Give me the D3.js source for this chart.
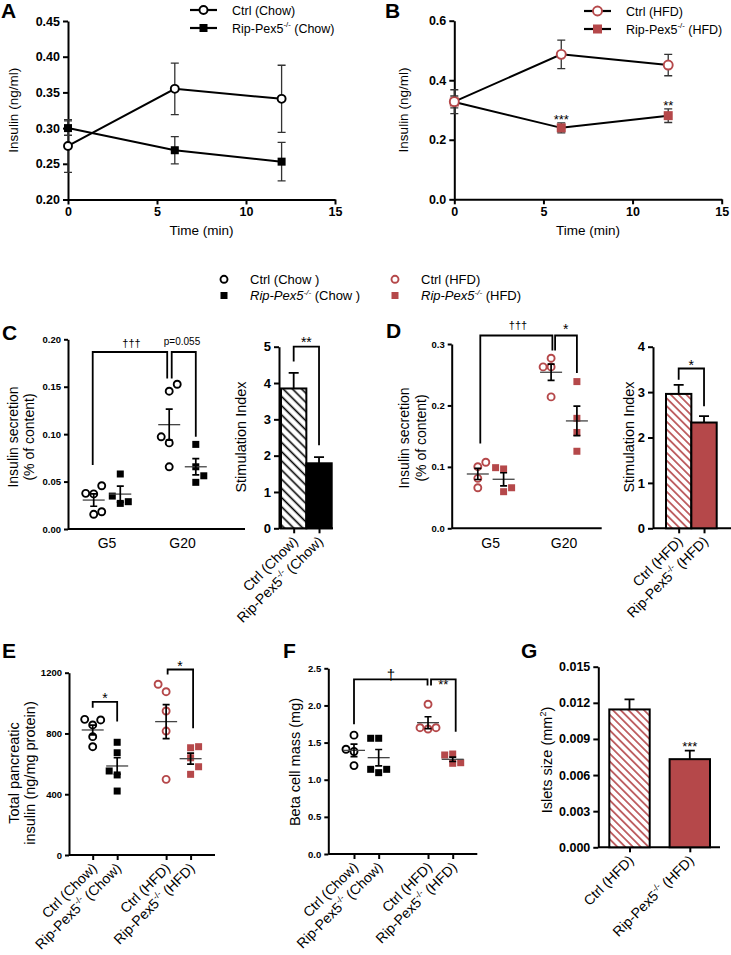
<!DOCTYPE html>
<html>
<head>
<meta charset="utf-8">
<script src="https://cdn.jsdelivr.net/npm/d3@7"></script>
<style>
body { margin: 0; background: #fff; }
svg { display: block; font-family: "Liberation Sans", Arial, sans-serif; }
</style>
</head>
<body>
<script>
// ---------- data ----------
var timeMin = [0, 6, 12];
var chowCtrlMean = [0.275, 0.355, 0.341];
var chowCtrlSem = [0.037, 0.036, 0.047];
var chowKoMean = [0.300, 0.269, 0.253];
var chowKoSem = [0.010, 0.019, 0.027];
var hfdCtrlMean = [0.328, 0.487, 0.451];
var hfdCtrlSem = [0.040, 0.048, 0.036];
var hfdKoMean = [0.327, 0.240, 0.281];
var hfdKoSem = [0.020, 0.017, 0.023];
var hfdKoStars = ["", "***", "**"];

var glucoseGroups = ["G5", "G20"];
// C: secretion (% of content), chow; [G5, G20]
var secChowCtrl = [[0.0376, 0.0370, 0.0456, 0.0155, 0.0182], [0.1453, 0.1526, 0.0972, 0.0908, 0.0656]];
var secChowCtrlSlot = [[-1, 0, 1, 0, 1], [0, 1, -1, 0, 0]];
var secChowCtrlMean = [0.0305, 0.1100];
var secChowCtrlSem = [0.0065, 0.0163];
var secChowKo = [[0.0580, 0.0347, 0.0270, 0.0288], [0.0892, 0.0656, 0.0561, 0.0492]];
var secChowKoSlot = [[0, -1, 0, 1], [0, 0, 1, 0]];
var secChowKoMean = [0.0368, 0.0656];
var secChowKoSem = [0.0084, 0.0086];
// D: secretion, HFD
var secHfdCtrl = [[0.1003, 0.1075, 0.0814, 0.0660], [0.2769, 0.2627, 0.2627, 0.2139]];
var secHfdCtrlSlot = [[0, 1, 0, 0], [0, -1, 0, 0]];
var secHfdCtrlMean = [0.0884, 0.2540];
var secHfdCtrlSem = [0.0090, 0.0133];
var secHfdKo = [[0.0987, 0.0966, 0.0660, 0.0596], [0.2388, 0.1790, 0.1560, 0.1254]];
var secHfdKoSlot = [[-1, 0, 1, 0], [0, 0, 0, 0]];
var secHfdKoMean = [0.0798, 0.1748];
var secHfdKoSem = [0.0106, 0.0240];

// stimulation index
var chowLabels = ["Ctrl (Chow)", "Rip-Pex5^-/-^  (Chow)"];
var hfdLabels = ["Ctrl (HFD)", "Rip-Pex5^-/-^  (HFD)"];
var stimChowMean = [3.85, 1.79];
var stimChowSem = [0.43, 0.17];
var stimHfdMean = [2.96, 2.33];
var stimHfdSem = [0.20, 0.14];

// E: total pancreatic insulin, F: beta cell mass
var fourLabels = ["Ctrl (Chow)", "Rip-Pex5^-/-^  (Chow)", "Ctrl (HFD)", "Rip-Pex5^-/-^  (HFD)"];
var fourPos = [0, 1, 3, 4];
var totInsValues = [[893, 856, 889, 779, 713], [742, 673, 553, 527, 421], [1124, 1075, 948, 816, 498], [706, 713, 640, 581, 531]];
var totInsSlot = [[-1, 0, 1, 0, 0], [0, 0, -1, 0, 0], [-1, 0, 0, 0, 0], [0, 1, 0, 1, 0]];
var totInsMean = [823, 586, 878, 634];
var totInsSem = [32, 54, 112, 36];
var betaValues = [[1.60, 1.41, 1.38, 1.19], [1.558, 1.558, 1.14, 1.095, 1.14], [2.016, 1.70, 1.683, 1.70], [1.333, 1.346, 1.229, 1.221]];
var betaSlot = [[0, -1, 0, 0], [-1, 0, -1, 0, 1], [0, -1, 0, 1], [-1, 0, 1, 0]];
var betaMean = [1.395, 1.297, 1.768, 1.275];
var betaSem = [0.085, 0.11, 0.08, 0.03];

// G: islet size
var isletMean = [0.01145, 0.00732];
var isletSem = [0.00083, 0.00071];

// ---------- drawing ----------
var red = "#b5484a";
var svg = d3.select("body").append("svg").attr("width", 731).attr("height", 955);
var defs = svg.append("defs");

function hatch(id, color, gap) {
    var p = defs.append("pattern").attr("id", id)
        .attr("patternUnits", "userSpaceOnUse")
        .attr("width", gap).attr("height", gap)
        .attr("patternTransform", "rotate(-45)");
    p.append("rect").attr("width", gap).attr("height", gap).attr("fill", "#fff");
    p.append("line").attr("x1", gap / 2).attr("x2", gap / 2).attr("y1", 0).attr("y2", gap)
        .attr("stroke", color).attr("stroke-width", 1.6);
}
hatch("hatchBlack", "#000", 6.5);
hatch("hatchRed", red, 5.5);

function styleAxis(g, size, bold) {
    g.attr("font-family", null).attr("font-size", null);
    g.select(".domain").attr("stroke", "#000").attr("stroke-width", 2);
    g.selectAll(".tick line").attr("stroke", "#000").attr("stroke-width", 2);
    g.selectAll(".tick text").attr("fill", "#000")
        .attr("font-size", size).attr("font-weight", bold ? "bold" : "normal");
}

// "a^b^c" -> b is superscript
function richText(t, str, size, italicFirst) {
    var parts = str.split("^");
    var up = 0;
    parts.forEach(function (s, i) {
        if (!s) return;
        var ts = t.append("tspan").text(s);
        if (i % 2 == 1) {
            ts.attr("font-size", size * 0.62).attr("dy", -size * 0.42);
            up = size * 0.42;
        } else {
            ts.attr("font-size", size).attr("dy", up);
            up = 0;
            if (italicFirst && i == 0) ts.attr("font-style", "italic");
        }
        if (italicFirst && i == 1) ts.attr("font-style", "italic");
    });
    return t;
}

function letter(s, x, y) {
    svg.append("text").attr("x", x).attr("y", y)
        .attr("font-size", 21).attr("font-weight", "bold").text(s);
}

function vTitle(str, cx, cy, size) {
    var t = svg.append("text")
        .attr("transform", "translate(" + cx + "," + cy + ") rotate(-90)")
        .attr("text-anchor", "middle");
    richText(t, str, size);
}

function rotLabels(x, labels, pos, axisY, size) {
    labels.forEach(function (l, i) {
        var t = svg.append("text")
            .attr("transform", "translate(" + (x(pos[i]) + 5) + "," + (axisY + 14) + ") rotate(-45)")
            .attr("text-anchor", "end");
        richText(t, l, size);
    });
}

function bracket(x1, yb1, x2, yb2, ytop) {
    svg.append("path")
        .attr("d", "M" + x1 + "," + yb1 + "V" + ytop + "H" + x2 + "V" + yb2)
        .attr("fill", "none").attr("stroke", "#000").attr("stroke-width", 1.8);
}

function note(str, x, y, size, bold) {
    svg.append("text").attr("x", x).attr("y", y).attr("text-anchor", "middle")
        .attr("fill", "#000")
        .attr("font-size", size).attr("font-weight", bold ? "bold" : "normal").text(str);
}

function marker(g, shape, cx, cy, color, size) {
    if (shape == "circle") {
        g.append("circle").attr("cx", cx).attr("cy", cy).attr("r", size / 2)
            .attr("fill", "#fff").attr("stroke", color).attr("stroke-width", 1.9);
    } else {
        g.append("rect").attr("x", cx - size / 2).attr("y", cy - size / 2)
            .attr("width", size).attr("height", size).attr("fill", color);
    }
}

// ---- A / B time course ----
function timeCourse(o) {
    var x = d3.scaleLinear().domain([0, 15]).range(o.xr);
    var y = d3.scaleLinear().domain(o.yd).range(o.yr);
    var gx = svg.append("g").attr("transform", "translate(0," + o.yr[0] + ")")
        .call(d3.axisBottom(x).tickValues([0, 5, 10, 15]).tickSize(5).tickSizeOuter(0));
    styleAxis(gx, 12.5, true);
    var gy = svg.append("g").attr("transform", "translate(" + o.xr[0] + ",0)")
        .call(d3.axisLeft(y).tickValues(o.ticks).tickFormat(d3.format(o.fmt)).tickSize(5).tickSizeOuter(0));
    styleAxis(gy, 12.5, true);

    var pts = o.series.map(function (s) {
        return timeMin.map(function (t, i) { return { t: t, m: s.mean[i], e: s.sem[i] }; });
    });
    pts.forEach(function (p) {
        svg.append("path").datum(p).attr("fill", "none").attr("stroke", "#000").attr("stroke-width", 2)
            .attr("d", d3.line().x(function (d) { return x(d.t); }).y(function (d) { return y(d.m); }));
    });
    pts.forEach(function (p) {
        p.forEach(function (d) {
            var cx = x(d.t), y1 = y(d.m - d.e), y2 = y(d.m + d.e);
            svg.append("path").attr("d", "M" + cx + "," + y1 + "V" + y2 + "M" + (cx - 4) + "," + y1 + "h8M" + (cx - 4) + "," + y2 + "h8")
                .attr("stroke", "#333").attr("stroke-width", 1.3).attr("fill", "none");
        });
    });
    o.series.slice().reverse().forEach(function (s, k) {
        var p = pts[o.series.length - 1 - k];
        p.forEach(function (d) { marker(svg, s.shape, x(d.t), y(d.m), s.color, s.size); });
    });
    if (o.stars) {
        o.stars.forEach(function (st, i) {
            if (st) note(st, x(timeMin[i]), y(o.series[1].mean[i] + o.series[1].sem[i]) + 1, 13, false);
        });
    }
    // legend
    o.series.forEach(function (s, i) {
        var ly = o.legY + i * 18;
        svg.append("line").attr("x1", o.legX).attr("x2", o.legX + 27).attr("y1", ly).attr("y2", ly)
            .attr("stroke", "#000").attr("stroke-width", 2.2);
        marker(svg, s.shape, o.legX + 13.5, ly, s.color, s.size);
        var t = svg.append("text").attr("x", o.legX + 42).attr("y", ly + 4.5);
        richText(t, s.name, 12.5);
    });
    note("Time (min)", (o.xr[0] + o.xr[1]) / 2, 235, 13.5, false);
    vTitle("Insulin (ng/ml)", o.titleX, (o.yr[0] + o.yr[1]) / 2, 13.5);
}

timeCourse({
    xr: [68, 335], yr: [199.5, 21], yd: [0.2, 0.45],
    ticks: [0.20, 0.25, 0.30, 0.35, 0.40, 0.45], fmt: ".2f",
    legX: 190, legY: 10, titleX: 18,
    series: [
        { name: "Ctrl  (Chow)", mean: chowCtrlMean, sem: chowCtrlSem, shape: "circle", color: "#000", size: 8 },
        { name: "Rip-Pex5^-/-^ (Chow)", mean: chowKoMean, sem: chowKoSem, shape: "square", color: "#000", size: 8 }
    ]
});
timeCourse({
    xr: [454.3, 721.7], yr: [199.3, 20.7], yd: [0, 0.6],
    ticks: [0, 0.2, 0.4, 0.6], fmt: ".1f",
    legX: 584, legY: 11, titleX: 408, stars: hfdKoStars,
    series: [
        { name: "Ctrl  (HFD)", mean: hfdCtrlMean, sem: hfdCtrlSem, shape: "circle", color: red, size: 9 },
        { name: "Rip-Pex5^-/-^ (HFD)", mean: hfdKoMean, sem: hfdKoSem, shape: "square", color: red, size: 9 }
    ]
});
letter("A", 1, 18);
letter("B", 385, 18);

// ---- shared legend ----
[
    { shape: "circle", color: "#000", x: 224, y: 279.3, text: "Ctrl (Chow )" },
    { shape: "square", color: "#000", x: 224, y: 295.5, text: "Rip-Pex5^-/-^ (Chow )" },
    { shape: "circle", color: red, x: 395, y: 279.3, text: "Ctrl (HFD)" },
    { shape: "square", color: red, x: 395, y: 295.5, text: "Rip-Pex5^-/-^ (HFD)" }
].forEach(function (l) {
    marker(svg, l.shape, l.x, l.y, l.color, 7);
    var t = svg.append("text").attr("x", l.x + 26).attr("y", l.y + 4.5);
    richText(t, l.text, 13, l.shape == "square");
});

// ---- scatter with mean +/- SEM ----
function scatter(o) {
    var gy = svg.append("g").attr("transform", "translate(" + o.ax + ",0)")
        .call(d3.axisLeft(o.y).tickValues(o.ticks).tickFormat(d3.format(o.fmt)).tickSize(4).tickSizeOuter(0));
    styleAxis(gy, 9.5, true);
    svg.append("line").attr("x1", o.ax).attr("x2", o.axEnd).attr("y1", o.y.range()[0]).attr("y2", o.y.range()[0])
        .attr("stroke", "#000").attr("stroke-width", 2);
    var pts = svg.append("g");
    o.groups.forEach(function (g) {
        g.values.forEach(function (v, i) {
            marker(pts, g.shape, g.x + g.slots[i] * 8, o.y(v), g.color, 7);
        });
    });
    o.groups.forEach(function (g) {
        var y0 = o.y(g.mean), y1 = o.y(g.mean - g.sem), y2 = o.y(g.mean + g.sem);
        svg.append("line").attr("x1", g.x - 11).attr("x2", g.x + 11).attr("y1", y0).attr("y2", y0)
            .attr("stroke", "#444").attr("stroke-width", 1.3);
        svg.append("path").attr("d", "M" + g.x + "," + y1 + "V" + y2 + "M" + (g.x - 3.5) + "," + y1 + "h7M" + (g.x - 3.5) + "," + y2 + "h7")
            .attr("stroke", "#000").attr("stroke-width", 1.7).attr("fill", "none");
    });
}

function glucosePanel(o) {
    var gx = d3.scaleLinear().domain([0, 1]).range(o.gr);
    var off = 0.176;
    var groups = [];
    o.ctrl.forEach(function (vals, k) {
        groups.push({ x: gx(k - off), values: vals, slots: o.ctrlSlot[k], mean: o.ctrlMean[k], sem: o.ctrlSem[k], shape: "circle", color: o.color });
        groups.push({ x: gx(k + off), values: o.ko[k], slots: o.koSlot[k], mean: o.koMean[k], sem: o.koSem[k], shape: "square", color: o.color });
    });
    scatter({ y: o.y, ax: o.ax, axEnd: o.axEnd, ticks: o.ticks, fmt: o.fmt, groups: groups });
    glucoseGroups.forEach(function (g, k) { note(g, gx(k), 548, 14, false); });
    return groups;
}

function barPanel(o) {
    var x = d3.scaleBand().domain([0, 1]).range(o.br).paddingInner(o.pad || 0);
    var y = o.y;
    var gy = svg.append("g").attr("transform", "translate(" + o.ax + ",0)")
        .call(d3.axisLeft(y).tickValues(o.ticks).tickFormat(d3.format(o.fmt)).tickSize(5).tickSizeOuter(0));
    styleAxis(gy, o.tickSize, true);
    var gxa = svg.append("g").attr("transform", "translate(0," + y.range()[0] + ")")
        .call(d3.axisBottom(d3.scaleLinear().domain([0, 1]).range([x(0) + x.bandwidth() / 2, x(1) + x.bandwidth() / 2]))
            .tickValues([0, 1]).tickFormat("").tickSize(5).tickSizeOuter(0));
    styleAxis(gxa, 10, false);
    gxa.select(".domain").remove();
    svg.append("line").attr("x1", o.ax).attr("x2", o.axEnd).attr("y1", y.range()[0]).attr("y2", y.range()[0])
        .attr("stroke", "#000").attr("stroke-width", 2);
    o.mean.forEach(function (m, i) {
        var bx = x(i), bw = x.bandwidth(), cx = bx + bw / 2;
        var et = y(m + o.sem[i]);
        svg.append("path").attr("d", "M" + cx + "," + y(m) + "V" + et + "M" + (cx - 5) + "," + et + "h10")
            .attr("stroke", "#000").attr("stroke-width", 1.8).attr("fill", "none");
        svg.append("rect").attr("x", bx).attr("y", y(m)).attr("width", bw).attr("height", y(0) - y(m))
            .attr("fill", o.fills[i]).attr("stroke", "#000").attr("stroke-width", 2);
    });
    var cxs = [x(0) + x.bandwidth() / 2, x(1) + x.bandwidth() / 2];
    rotLabels(function (i) { return cxs[i]; }, o.labels, [0, 1], y.range()[0], 14);
    return { cx: cxs, y: y };
}

// ---- C ----
var yC = d3.scaleLinear().domain([0, 0.2]).range([529, 339.3]);
var gC = glucosePanel({
    y: yC, ax: 68, axEnd: 245, gr: [107, 182.5], color: "#000",
    ticks: [0, 0.05, 0.10, 0.15, 0.20], fmt: ".2f",
    ctrl: secChowCtrl, ctrlSlot: secChowCtrlSlot, ctrlMean: secChowCtrlMean, ctrlSem: secChowCtrlSem,
    ko: secChowKo, koSlot: secChowKoSlot, koMean: secChowKoMean, koSem: secChowKoSem
});
bracket(gC[0].x - 1, yC(0.0674), gC[2].x - 2, yC(0.1586), yC(0.1866));
bracket(gC[2].x + 2.5, yC(0.1586), gC[3].x, yC(0.0972), yC(0.1866));
note("\u2020\u2020\u2020", (gC[0].x + gC[2].x) / 2, 346.5, 11, false);
note("p=0.055", 182, 345, 10, false);
vTitle("Insulin secretion", 17.5, 437, 14);
vTitle("(% of content)", 34, 437, 14);
letter("C", 2, 340);

var yCb = d3.scaleLinear().domain([0, 5]).range([528.3, 346.7]);
var bC = barPanel({
    y: yCb, ax: 279, axEnd: 333, br: [281, 331.7], ticks: [0, 1, 2, 3, 4, 5], fmt: "d", tickSize: 13,
    mean: stimChowMean, sem: stimChowSem, fills: ["url(#hatchBlack)", "#000"], labels: chowLabels
});
bracket(bC.cx[0], yCb(4.59), bC.cx[1], yCb(2.29), yCb(5));
note("**", (bC.cx[0] + bC.cx[1]) / 2, 347, 14, false);
vTitle("Stimulation Index", 246, 437, 14.5);

// ---- D ----
var yD = d3.scaleLinear().domain([0, 0.3]).range([528.3, 344]);
var gD = glucosePanel({
    y: yD, ax: 451.7, axEnd: 601.7, gr: [490.7, 564], color: red,
    ticks: [0, 0.1, 0.2, 0.3], fmt: ".1f",
    ctrl: secHfdCtrl, ctrlSlot: secHfdCtrlSlot, ctrlMean: secHfdCtrlMean, ctrlSem: secHfdCtrlSem,
    ko: secHfdKo, koSlot: secHfdKoSlot, koMean: secHfdKoMean, koSem: secHfdKoSem
});
bracket(gD[0].x + 2.5, yD(0.1382), gD[2].x + 1.3, yD(0.2894), yD(0.3138));
bracket(gD[2].x + 4, yD(0.2894), gD[3].x, yD(0.2529), yD(0.3138));
note("\u2020\u2020\u2020", 518, 328.5, 11, false);
note("*", 565.7, 334, 14, false);
vTitle("Insulin secretion", 408.5, 438, 14);
vTitle("(% of content)", 426, 438, 14);
letter("D", 386, 338);

var yDb = d3.scaleLinear().domain([0, 4]).range([528.3, 346.7]);
var bD = barPanel({
    y: yDb, ax: 653, axEnd: 731, br: [666, 716.7], ticks: [0, 1, 2, 3, 4], fmt: "d", tickSize: 13,
    mean: stimHfdMean, sem: stimHfdSem, fills: ["url(#hatchRed)", red], labels: hfdLabels
});
bracket(bD.cx[0], yDb(3.27), bD.cx[1], yDb(2.69), yDb(3.52));
note("*", (bD.cx[0] + bD.cx[1]) / 2, 369.5, 14, false);
vTitle("Stimulation Index", 634, 437, 14.5);

// ---- E / F ----
function fourPanel(o) {
    var x = d3.scaleLinear().domain([0, 4]).range(o.xr);
    var groups = o.values.map(function (v, i) {
        return { x: x(fourPos[i]), values: v, slots: o.slots[i], mean: o.mean[i], sem: o.sem[i],
            shape: i % 2 == 0 ? "circle" : "square", color: i < 2 ? "#000" : red };
    });
    scatter({ y: o.y, ax: o.ax, axEnd: o.axEnd, ticks: o.ticks, fmt: o.fmt, groups: groups });
    var gxa = svg.append("g").attr("transform", "translate(0," + o.y.range()[0] + ")")
        .call(d3.axisBottom(x).tickValues(fourPos).tickFormat("").tickSize(5).tickSizeOuter(0));
    styleAxis(gxa, 10, false);
    gxa.select(".domain").remove();
    rotLabels(x, fourLabels, fourPos, o.y.range()[0], 14);
    return groups;
}

var yE = d3.scaleLinear().domain([0, 1200]).range([855, 672.7]);
var gE = fourPanel({
    y: yE, ax: 69, axEnd: 215, xr: [92.7, 190.6], ticks: [0, 400, 800, 1200], fmt: "d",
    values: totInsValues, slots: totInsSlot, mean: totInsMean, sem: totInsSem
});
bracket(gE[0].x, yE(970), gE[1].x, yE(878), yE(1008));
note("*", (gE[0].x + gE[1].x) / 2, 703, 14, false);
bracket(gE[2].x + 1.5, yE(1188), gE[3].x + 2.5, yE(834), yE(1221));
note("*", (gE[2].x + gE[3].x) / 2 + 1.5, 670.5, 14, false);
vTitle("Total pancreatic", 18.5, 773, 14.5);
vTitle("insulin (ng/mg protein)", 35, 773, 14.5);
letter("E", 2, 658);

var yF = d3.scaleLinear().domain([0, 2.5]).range([854, 668.3]);
var gF = fourPanel({
    y: yF, ax: 328.3, axEnd: 477.3, xr: [354, 452.7], ticks: [0, 0.5, 1.0, 1.5, 2.0, 2.5], fmt: ".1f",
    values: betaValues, slots: betaSlot, mean: betaMean, sem: betaSem
});
bracket(gF[0].x, yF(1.746), gF[2].x - 0.5, yF(2.27), yF(2.35));
bracket(gF[2].x + 3, yF(2.27), gF[3].x + 3, yF(1.645), yF(2.35));
note("\u2020", (gF[0].x + gF[2].x) / 2, 680, 15, false);
note("**", (gF[2].x + gF[3].x) / 2 + 3, 689, 13, false);
vTitle("Beta cell mass (mg)", 300, 762, 14.5);
letter("F", 283, 658);

// ---- G ----
var yG = d3.scaleLinear().domain([0, 0.015]).range([847.3, 666.7]);
var bG = barPanel({
    y: yG, ax: 598.3, axEnd: 720, br: [609.3, 710], pad: 0.33,
    ticks: [0, 0.003, 0.006, 0.009, 0.012, 0.015], fmt: ".3f", tickSize: 12.5,
    mean: isletMean, sem: isletSem, fills: ["url(#hatchRed)", red], labels: hfdLabels
});
note("***", bG.cx[1], yG(isletMean[1] + isletSem[1]), 13, false);
vTitle("Islets size (mm^2^)", 552, 760, 14.5);
letter("G", 521, 658);
</script>
</body>
</html>
